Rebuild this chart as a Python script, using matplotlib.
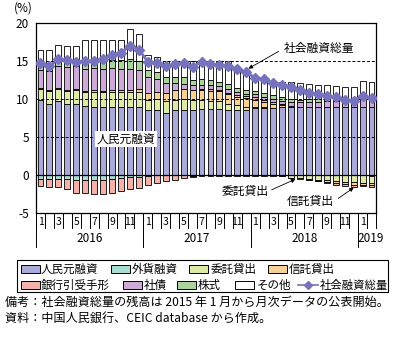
import matplotlib
matplotlib.use('Agg')
import matplotlib.pyplot as plt
import numpy as np
from matplotlib.patches import Rectangle
from matplotlib.lines import Line2D
import matplotlib.transforms as mtrans

plt.rcParams['font.family'] = ['Noto Sans CJK JP', 'DejaVu Sans']

# ---------------- data ----------------
month_labels = [1, 2, 3, 4, 5, 6, 7, 8, 9, 10, 11, 12] * 3 + [1, 2]
years = ['2016', '2017', '2018', '2019']
year_lengths = [12, 12, 12, 2]

rmb = [9.9, 9.4, 9.7, 9.4, 9.4, 9.1, 9.0, 9.0, 9.0, 9.0, 9.0, 9.0,
       8.55, 8.6, 8.2, 8.6, 8.6, 8.6, 8.7, 8.7, 8.7, 8.6, 8.6, 8.6,
       8.8, 8.8, 8.8, 8.9, 9.0, 9.0, 9.0, 9.0, 9.0, 9.0, 9.0, 9.0,
       9.0, 9.0]
fx = [-0.5, -0.5, -0.5, -0.55, -0.6, -0.6, -0.6, -0.6, -0.55, -0.4, -0.3, -0.2,
      -0.1, -0.05, -0.05, -0.05, -0.05, -0.1, -0.1, -0.1, -0.1, -0.1, -0.1, -0.1,
      -0.1, -0.1, -0.1, -0.1, -0.05, -0.05, -0.05, -0.05, -0.05, -0.05, -0.05, -0.05,
      -0.05, -0.1]
entrusted = [1.4, 1.7, 1.6, 1.7, 1.8, 1.8, 1.9, 1.9, 1.9, 1.9, 1.9, 1.9,
             1.3, 1.35, 1.6, 1.3, 1.35, 1.3, 1.2, 1.1, 1.0, 0.8, 0.6, 0.4,
             0.2, 0.1, 0.05, -0.05, -0.3, -0.4, -0.45, -0.55, -0.65, -0.75, -0.85, -0.92,
             -0.95, -0.9]
trust = [0.1, 0.1, 0.15, 0.1, 0.15, 0.2, 0.25, 0.2, 0.25, 0.3, 0.3, 0.35,
         1.0, 1.0, 0.95, 1.3, 1.35, 1.25, 1.3, 1.3, 1.3, 1.2, 1.1, 1.1,
         0.9, 0.75, 0.5, 0.3, -0.05, -0.1, -0.15, -0.2, -0.25, -0.3, -0.3, -0.35,
         -0.3, -0.3]
bankers = [-1.0, -1.1, -1.1, -1.25, -1.75, -1.75, -1.9, -1.9, -1.8, -1.7, -1.55, -1.5,
           -1.2, -1.05, -0.8, -0.6, -0.4, -0.2, 0.1, 0.15, 0.2, 0.25, 0.25, 0.3,
           0.3, 0.25, 0.2, 0.1, 0.05, 0.0, -0.02, -0.05, -0.05, -0.2, -0.25, -0.25,
           -0.15, -0.3]
bonds = [2.4, 2.5, 2.9, 3.0, 3.0, 2.9, 2.9, 2.9, 2.9, 2.8, 2.8, 2.6,
         2.0, 1.7, 1.3, 0.9, 0.7, 0.7, 0.6, 0.6, 0.5, 0.5, 0.4, 0.3,
         0.4, 0.4, 0.5, 0.5, 0.5, 0.55, 0.6, 0.65, 0.7, 0.8, 0.85, 0.9,
         1.0, 1.0]
equity = [0.7, 0.7, 0.8, 0.9, 0.9, 1.0, 1.0, 1.0, 1.1, 1.1, 1.2, 1.2,
          0.9, 0.9, 0.8, 0.8, 0.85, 0.7, 0.7, 0.6, 0.6, 0.6, 0.5, 0.5,
          0.5, 0.5, 0.45, 0.45, 0.4, 0.35, 0.35, 0.3, 0.3, 0.25, 0.25, 0.2,
          0.2, 0.2]
other = [2.0, 2.0, 1.95, 1.9, 1.75, 2.8, 2.75, 2.7, 2.65, 2.7, 4.0, 3.45,
         2.05, 1.95, 2.15, 2.1, 2.15, 2.45, 2.4, 2.55, 2.7, 3.05, 2.75, 2.6,
         1.9, 2.0, 1.9, 2.05, 2.35, 2.2, 2.05, 1.95, 1.8, 1.65, 1.5, 1.5,
         2.2, 2.1]
tsf = [14.7, 14.3, 15.2, 15.1, 14.9, 15.0, 15.0, 15.3, 15.8, 16.1, 17.0, 16.5,
       14.9, 14.8, 14.3, 14.6, 14.7, 14.25, 14.9, 14.6, 14.5, 14.4, 13.9, 13.5,
       12.8, 12.6, 12.1, 11.85, 11.6, 11.15, 10.8, 10.65, 10.4, 10.2, 9.9, 9.8,
       10.4, 10.1]

series_names = ['人民元融資', '外貨融資', '委託貸出', '信託貸出',
                '銀行引受手形', '社債', '株式', 'その他']
series_vals = [rmb, fx, entrusted, trust, bankers, bonds, equity, other]
series_colors = ['#A9A9DA', '#A9DCD2', '#DDEBA6', '#F8D196',
                 '#F4B3AA', '#CDAAD8', '#A9D59A', '#FFFFFF']
line_name = '社会融資総量'
line_color = '#7672BE'

# ---------------- figure ----------------
W, H = 403, 337
fig = plt.figure(figsize=(W / 100, H / 100), dpi=100)
L, R, T, B = 36, 376, 23, 213
ax = fig.add_axes([L / W, 1 - B / H, (R - L) / W, (B - T) / H])

n = len(rmb)
x = np.arange(n)
pos_bottom = np.zeros(n)
neg_bottom = np.zeros(n)
for vals, col in zip(series_vals, series_colors):
    v = np.array(vals, dtype=float)
    bottoms = np.where(v >= 0, pos_bottom, neg_bottom)
    ax.bar(x, v, bottom=bottoms, width=0.66, color=col, edgecolor='black',
           linewidth=0.6, zorder=2)
    pos_bottom = pos_bottom + np.where(v >= 0, v, 0)
    neg_bottom = neg_bottom + np.where(v < 0, v, 0)

for yv in (5, 10, 15):
    ax.axhline(yv, color='black', lw=0.7, ls=(0, (3, 2)), zorder=3)
ax.axhline(0, color='black', lw=0.9, zorder=3)

ax.plot(x, tsf, color=line_color, lw=2.0, marker='D', markersize=5,
        markeredgecolor=line_color, zorder=5)

ax.set_xlim(-0.5, n - 0.5)
ax.set_ylim(-5, 20)
ax.set_yticks([-5, 0, 5, 10, 15, 20])
ax.set_yticklabels(['-5', '0', '5', '10', '15', '20'], fontsize=8.5)
ax.tick_params(axis='y', length=0, pad=5)
ax.set_xticks([])
for s in ax.spines.values():
    s.set_linewidth(0.9)

ax.text(-0.065, 1.079, '(%)', transform=ax.transAxes, fontsize=8.5,
        ha='left', va='center')

# month/year labels below
trans = mtrans.blended_transform_factory(ax.transData, ax.transAxes)
ph = B - T
m_bot = -(228 - B) / ph
y_bot = -(247 - B) / ph
for i in range(n + 1):
    ax.plot([i - 0.5, i - 0.5], [0, m_bot], transform=trans, color='black',
            lw=0.7, clip_on=False)
for i, m in enumerate(month_labels):
    if m % 2 == 1:
        ax.text(i, -(222 - B) / ph, str(m), transform=trans, ha='center',
                va='center', fontsize=7.5)
start = 0
for yl, ln in zip(years, year_lengths):
    ax.plot([start - 0.5, start - 0.5], [0, y_bot], transform=trans,
            color='black', lw=0.7, clip_on=False)
    cx = start + ln / 2 - 0.5
    if ln < 3:
        cx = start + 0.9
    ax.text(cx, -(238 - B) / ph, yl, transform=trans, ha='center',
            va='center', fontsize=8.5)
    start += ln

# annotations (pixel overlay)
ov = fig.add_axes([0, 0, 1, 1], facecolor='none')
ov.set_xlim(0, W)
ov.set_ylim(H, 0)
ov.axis('off')

ov.text(319, 48, '社会融資総量', fontsize=8.5, ha='center', va='center')
ov.annotate('', xy=(246, 70), xytext=(281, 50),
            arrowprops=dict(arrowstyle='-|>', color='black', lw=0.6,
                            mutation_scale=6))
ov.text(126, 139, '人民元融資', fontsize=8.5, ha='center', va='center',
        bbox=dict(boxstyle='square,pad=0.1', fc='white', ec='none'), zorder=10)
ov.text(245, 192, '委託貸出', fontsize=8.5, ha='center', va='center')
ov.annotate('', xy=(298, 178), xytext=(269, 191),
            arrowprops=dict(arrowstyle='-|>', color='black', lw=0.6,
                            mutation_scale=6))
ov.text(310, 201, '信託貸出', fontsize=8.5, ha='center', va='center')
ov.annotate('', xy=(356, 186), xytext=(336, 200),
            arrowprops=dict(arrowstyle='-|>', color='black', lw=0.6,
                            mutation_scale=6))

# legend (manual)
ov.add_patch(Rectangle((17, 260), 371, 32, fc='white', ec='black', lw=0.8))
row1 = [(0, 21, 41), (1, 111, 132), (2, 189, 211), (3, 268, 289)]
row2 = [(4, 21, 41), (5, 123, 144), (6, 177, 198), (7, 235, 257)]
for items, yc in ((row1, 269), (row2, 285)):
    for idx, px, tx in items:
        ov.add_patch(Rectangle((px, yc - 4.3), 18.5, 8.6,
                               fc=series_colors[idx], ec='black', lw=0.7))
        ov.text(tx, yc, series_names[idx], fontsize=8.3, ha='left', va='center')
ov.add_line(Line2D([298, 318], [285, 285], color=line_color, lw=1.2, zorder=5))
ov.plot([308], [285], marker='D', markersize=4.5, color=line_color)
ov.text(320, 285, line_name, fontsize=8.2, ha='left', va='center')

ov.text(5, 302, '備考：社会融資総量の残高は 2015 年 1 月から月次データの公表開始。',
        fontsize=8.7, ha='left', va='center')
ov.text(5, 318, '資料：中国人民銀行、CEIC database から作成。',
        fontsize=8.7, ha='left', va='center')

fig.savefig('out.png', dpi=100)
